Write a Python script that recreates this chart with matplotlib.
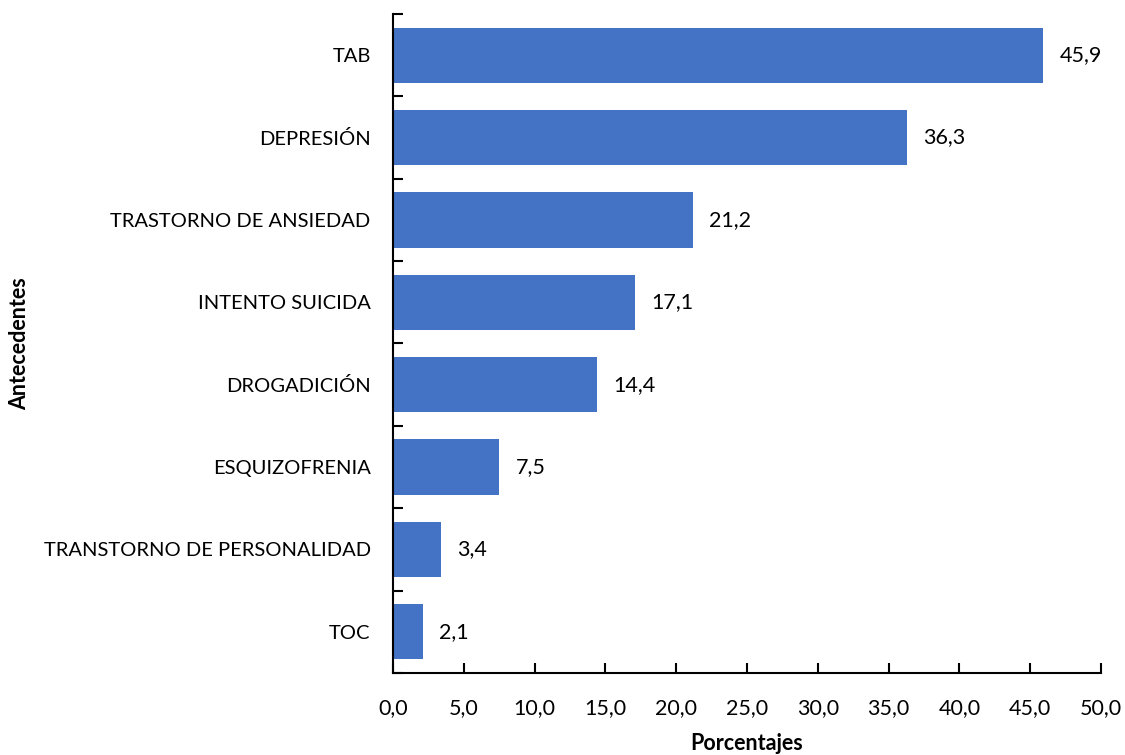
import matplotlib.pyplot as plt
import numpy as np

categorias = ["TAB", "DEPRESIÓN", "TRASTORNO DE ANSIEDAD", "INTENTO SUICIDA",
              "DROGADICIÓN", "ESQUIZOFRENIA", "TRANSTORNO DE PERSONALIDAD", "TOC"]
porcentajes = [45.9, 36.3, 21.2, 17.1, 14.4, 7.5, 3.4, 2.1]
xticks = [0, 5, 10, 15, 20, 25, 30, 35, 40, 45, 50]

plt.rcParams["font.family"] = ["Lato", "DejaVu Sans"]

fig = plt.figure(figsize=(11.25, 7.55), dpi=100)
ax = fig.add_axes([0.3493, 0.1086, 0.6294, 0.8729])

n = len(categorias)
y = np.arange(n)[::-1]
bars = ax.barh(y, porcentajes, height=0.67, color="#4472C4")

for b, v in zip(bars, porcentajes):
    ax.text(b.get_width() + 1.15, b.get_y() + b.get_height() / 2,
            f"{v:.1f}".replace(".", ","), va="center", ha="left", fontsize=15.5)

ax.set_xlim(0, 50)
ax.set_ylim(-0.5, n - 0.5)
ax.set_xticks(xticks)
ax.set_xticklabels([f"{t:.1f}".replace(".", ",") for t in xticks], fontsize=15.5)
ax.set_yticks(y)
ax.set_yticklabels(categorias, fontsize=14.5)
ax.set_yticks(np.arange(n + 1) - 0.5, minor=True)

ax.tick_params(axis="y", which="major", length=0, pad=16)
ax.tick_params(axis="y", which="minor", direction="in", length=7, width=1.5)
ax.tick_params(axis="x", direction="in", length=7, width=1.5, pad=18)

for s in ["top", "right"]:
    ax.spines[s].set_visible(False)
for s in ["left", "bottom"]:
    ax.spines[s].set_linewidth(1.5)

ax.set_xlabel("Porcentajes", fontsize=15.5, fontweight="bold", labelpad=11)
ax.set_ylabel("Antecedentes", fontsize=15.5, fontweight="bold")
ax.yaxis.set_label_coords(-0.513, 0.5)

fig.savefig("out.png", dpi=100)
